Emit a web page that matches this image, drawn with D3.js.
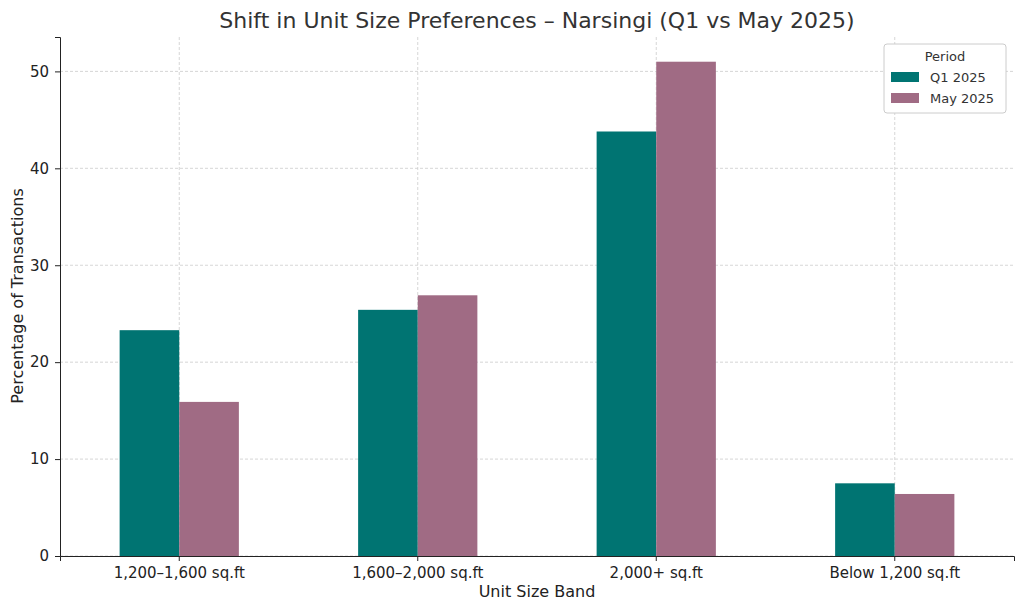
<!DOCTYPE html><html><head><meta charset="utf-8"><script src="https://cdn.jsdelivr.net/npm/d3@7"></script>
<style>body{margin:0;background:#fff}text{font-family:"DejaVu Sans",sans-serif}</style></head><body><svg id="c" width="1024" height="611"></svg>
<script>
const categories=["1,200–1,600 sq.ft","1,600–2,000 sq.ft","2,000+ sq.ft","Below 1,200 sq.ft"];
const seriesNames=["Q1 2025","May 2025"];
const q1Values=[23.3,25.4,43.8,7.5];
const mayValues=[15.9,26.9,51.0,6.4];
const yTicks=[0,10,20,30,40,50];
const colors=["#007472","#a06b84"];
const svg=d3.select("#c");
const L=60,R=1014,T=37,B=556;
const x=d3.scaleBand().domain(categories).range([L,R]).padding(0);
const y=d3.scaleLinear().domain([0,53.55]).range([B,T]);
const g=svg.append("g");
// grid
g.selectAll(".gy").data(yTicks).join("line").attr("x1",L).attr("x2",R).attr("y1",d=>y(d)).attr("y2",d=>y(d)).attr("stroke","#ccc").attr("stroke-dasharray","3,2").attr("stroke-width",0.8);
g.selectAll(".gx").data(categories).join("line").attr("y1",T).attr("y2",B).attr("x1",d=>x(d)+x.bandwidth()/2).attr("x2",d=>x(d)+x.bandwidth()/2).attr("stroke","#ccc").attr("stroke-dasharray","3,2").attr("stroke-width",0.8);
const bw=x.bandwidth()*0.25;
[q1Values,mayValues].forEach((vals,si)=>{
 g.selectAll(".b"+si).data(vals).join("rect").attr("x",(d,i)=>x(categories[i])+x.bandwidth()/2+(si-1)*bw).attr("width",bw).attr("y",d=>y(d)).attr("height",d=>B-y(d)).attr("fill",colors[si]);
});
const ya=svg.append("g").attr("transform",`translate(${L},0)`).call(d3.axisLeft(y).tickValues(yTicks).tickSize(5).tickPadding(6));
ya.selectAll("text").attr("font-size",15).attr("fill","#222");
const xa=svg.append("g").attr("transform",`translate(0,${B})`).call(d3.axisBottom(x).tickSize(5).tickPadding(6));
xa.selectAll("text").attr("font-size",15).attr("fill","#222");
[ya,xa].forEach(a=>{a.select(".domain").attr("stroke","#222");a.selectAll(".tick line").attr("stroke","#222");});
svg.append("text").attr("x",537).attr("y",28).attr("text-anchor","middle").attr("font-size",22).attr("fill","#333").text("Shift in Unit Size Preferences – Narsingi (Q1 vs May 2025)");
svg.append("text").attr("x",537).attr("y",597).attr("text-anchor","middle").attr("font-size",16).attr("fill","#222").text("Unit Size Band");
svg.append("text").attr("transform","translate(23,296) rotate(-90)").attr("text-anchor","middle").attr("font-size",16).attr("fill","#222").text("Percentage of Transactions");
const lg=svg.append("g").attr("transform","translate(884,44)");
lg.append("rect").attr("width",122).attr("height",69).attr("rx",3).attr("fill","#fff").attr("stroke","#ccc");
lg.append("text").attr("x",61).attr("y",17).attr("text-anchor","middle").attr("font-size",13).attr("fill","#333").text("Period");
seriesNames.forEach((s,i)=>{
 lg.append("rect").attr("x",7).attr("y",28+i*21).attr("width",28).attr("height",10).attr("fill",colors[i]);
 lg.append("text").attr("x",46).attr("y",38+i*21).attr("font-size",13).attr("fill","#333").text(s);
});
</script></body></html>
